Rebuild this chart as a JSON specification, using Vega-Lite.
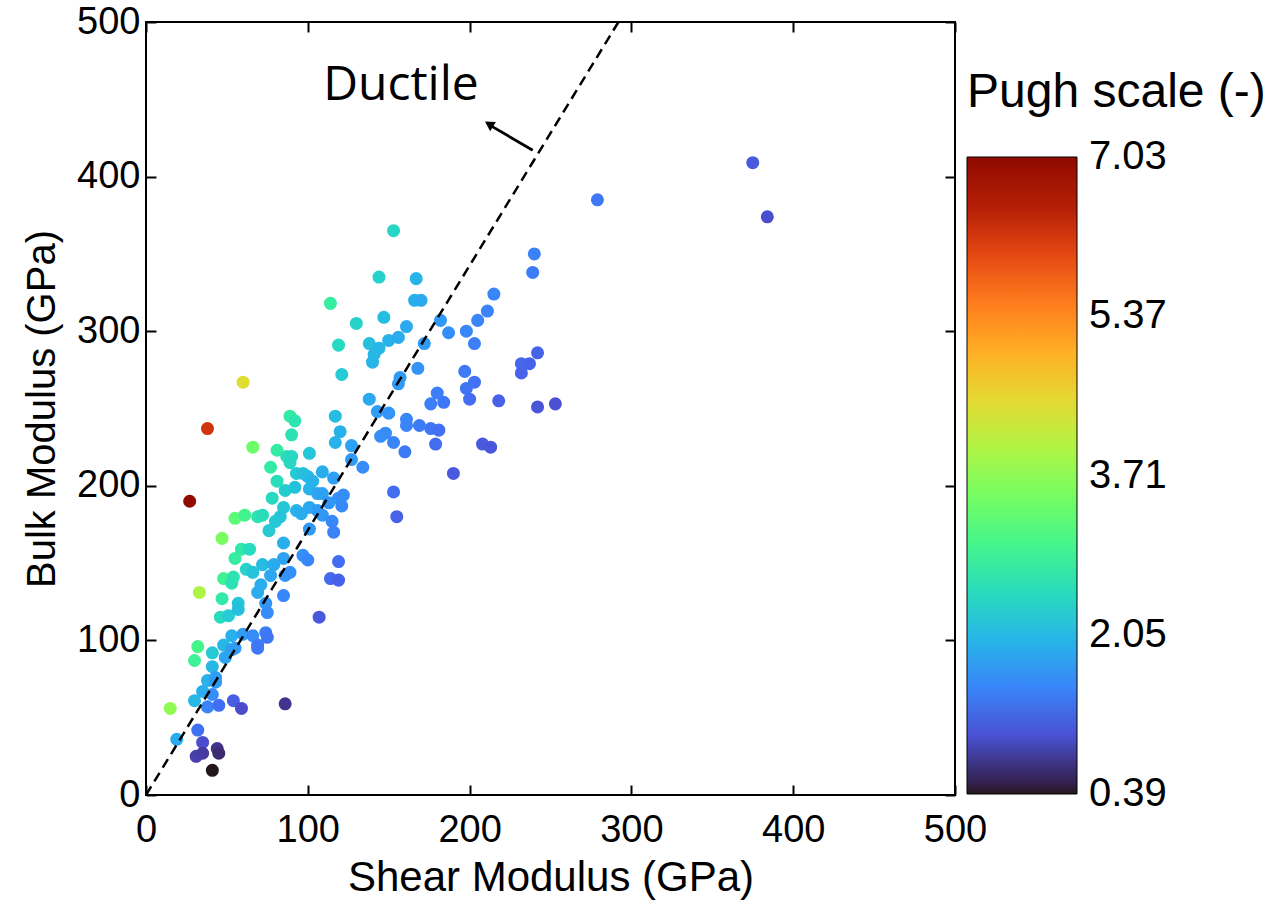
{
  "$schema": "https://vega.github.io/schema/vega-lite/v6.json",
  "width": 809,
  "height": 773,
  "autosize": {"type": "none"},
  "padding": {"left": 146, "top": 22, "right": 326, "bottom": 110},
  "background": "white",
  "datasets": {
    "points": [
      {"G":114,"B":318,"P":2.79},{"G":130,"B":305,"P":2.35},{"G":119,"B":291,"P":2.45},{"G":121,"B":272,"P":2.25},
      {"G":60,"B":267,"P":4.45},{"G":89,"B":245,"P":2.75},{"G":92,"B":242,"P":2.63},{"G":117,"B":245,"P":2.09},
      {"G":38,"B":237,"P":6.24},{"G":153,"B":365,"P":2.39},{"G":144,"B":335,"P":2.33},{"G":167,"B":334,"P":2.0},
      {"G":166,"B":320,"P":1.93},{"G":170,"B":320,"P":1.88},{"G":147,"B":309,"P":2.1},{"G":161,"B":303,"P":1.88},
      {"G":182,"B":307,"P":1.69},{"G":187,"B":299,"P":1.6},{"G":198,"B":300,"P":1.52},{"G":205,"B":307,"P":1.5},
      {"G":211,"B":313,"P":1.48},{"G":215,"B":324,"P":1.51},{"G":239,"B":338,"P":1.41},{"G":240,"B":350,"P":1.46},
      {"G":203,"B":292,"P":1.44},{"G":138,"B":292,"P":2.12},{"G":144,"B":289,"P":2.01},{"G":150,"B":294,"P":1.96},
      {"G":156,"B":296,"P":1.9},{"G":141,"B":285,"P":2.02},{"G":140,"B":280,"P":2.0},{"G":172,"B":292,"P":1.7},
      {"G":168,"B":276,"P":1.64},{"G":157,"B":270,"P":1.72},{"G":156,"B":266,"P":1.71},{"G":197,"B":274,"P":1.39},
      {"G":203,"B":267,"P":1.32},{"G":198,"B":263,"P":1.33},{"G":200,"B":256,"P":1.28},{"G":232,"B":279,"P":1.2},
      {"G":237,"B":279,"P":1.18},{"G":242,"B":286,"P":1.18},{"G":232,"B":273,"P":1.18},{"G":218,"B":255,"P":1.17},
      {"G":242,"B":251,"P":1.04},{"G":253,"B":253,"P":1.0},{"G":138,"B":256,"P":1.86},{"G":143,"B":248,"P":1.73},
      {"G":150,"B":247,"P":1.65},{"G":180,"B":260,"P":1.44},{"G":176,"B":253,"P":1.44},{"G":184,"B":254,"P":1.38},
      {"G":120,"B":235,"P":1.96},{"G":117,"B":228,"P":1.95},{"G":127,"B":226,"P":1.78},{"G":145,"B":232,"P":1.6},
      {"G":148,"B":234,"P":1.58},{"G":153,"B":228,"P":1.49},{"G":161,"B":243,"P":1.51},{"G":161,"B":239,"P":1.48},
      {"G":169,"B":239,"P":1.41},{"G":176,"B":237,"P":1.35},{"G":181,"B":236,"P":1.3},{"G":179,"B":227,"P":1.27},
      {"G":160,"B":222,"P":1.39},{"G":208,"B":227,"P":1.09},{"G":213,"B":225,"P":1.06},{"G":190,"B":208,"P":1.09},
      {"G":127,"B":217,"P":1.71},{"G":134,"B":212,"P":1.58},{"G":101,"B":221,"P":2.19},{"G":153,"B":196,"P":1.28},
      {"G":279,"B":385,"P":1.38},{"G":375,"B":409,"P":1.09},{"G":384,"B":374,"P":0.97},{"G":155,"B":180,"P":1.16},
      {"G":90,"B":233,"P":2.59},{"G":66,"B":225,"P":3.41},{"G":81,"B":223,"P":2.75},{"G":87,"B":219,"P":2.52},
      {"G":90,"B":219,"P":2.43},{"G":89,"B":215,"P":2.42},{"G":77,"B":212,"P":2.75},{"G":93,"B":208,"P":2.24},
      {"G":97,"B":208,"P":2.14},{"G":100,"B":206,"P":2.06},{"G":103,"B":203,"P":1.97},{"G":109,"B":209,"P":1.92},
      {"G":116,"B":205,"P":1.77},{"G":81,"B":203,"P":2.51},{"G":86,"B":197,"P":2.29},{"G":92,"B":199,"P":2.16},
      {"G":101,"B":198,"P":1.96},{"G":106,"B":195,"P":1.84},{"G":109,"B":195,"P":1.79},{"G":122,"B":194,"P":1.59},
      {"G":119,"B":192,"P":1.61},{"G":27,"B":190,"P":7.03},{"G":78,"B":192,"P":2.46},{"G":113,"B":189,"P":1.67},
      {"G":121,"B":187,"P":1.55},{"G":85,"B":186,"P":2.19},{"G":93,"B":184,"P":1.98},{"G":96,"B":182,"P":1.9},
      {"G":101,"B":186,"P":1.84},{"G":106,"B":184,"P":1.74},{"G":109,"B":181,"P":1.66},{"G":115,"B":177,"P":1.54},
      {"G":116,"B":170,"P":1.47},{"G":83,"B":180,"P":2.17},{"G":80,"B":177,"P":2.21},{"G":55,"B":179,"P":3.25},
      {"G":61,"B":181,"P":2.97},{"G":69,"B":180,"P":2.61},{"G":72,"B":181,"P":2.51},{"G":76,"B":171,"P":2.25},
      {"G":101,"B":172,"P":1.7},{"G":85,"B":163,"P":1.92},{"G":47,"B":166,"P":3.53},{"G":59,"B":159,"P":2.69},
      {"G":64,"B":159,"P":2.48},{"G":55,"B":153,"P":2.78},{"G":97,"B":155,"P":1.6},{"G":100,"B":152,"P":1.52},
      {"G":85,"B":153,"P":1.8},{"G":72,"B":149,"P":2.07},{"G":79,"B":149,"P":1.89},{"G":77,"B":142,"P":1.84},
      {"G":119,"B":151,"P":1.27},{"G":114,"B":140,"P":1.23},{"G":119,"B":139,"P":1.17},{"G":62,"B":146,"P":2.35},
      {"G":66,"B":144,"P":2.18},{"G":48,"B":140,"P":2.92},{"G":54,"B":141,"P":2.61},{"G":53,"B":137,"P":2.58},
      {"G":71,"B":136,"P":1.92},{"G":69,"B":131,"P":1.9},{"G":86,"B":142,"P":1.65},{"G":89,"B":144,"P":1.62},
      {"G":85,"B":129,"P":1.52},{"G":33,"B":131,"P":3.97},{"G":47,"B":127,"P":2.7},{"G":57,"B":124,"P":2.18},
      {"G":74,"B":124,"P":1.68},{"G":46,"B":115,"P":2.5},{"G":51,"B":116,"P":2.27},{"G":57,"B":120,"P":2.1},
      {"G":75,"B":118,"P":1.57},{"G":107,"B":115,"P":1.07},{"G":32,"B":96,"P":3.0},{"G":30,"B":87,"P":2.9},
      {"G":41,"B":92,"P":2.24},{"G":53,"B":103,"P":1.94},{"G":60,"B":104,"P":1.73},{"G":66,"B":103,"P":1.56},
      {"G":74,"B":105,"P":1.42},{"G":75,"B":102,"P":1.36},{"G":48,"B":97,"P":2.02},{"G":53,"B":94,"P":1.77},
      {"G":55,"B":95,"P":1.73},{"G":69,"B":97,"P":1.41},{"G":69,"B":95,"P":1.38},{"G":49,"B":89,"P":1.82},
      {"G":41,"B":83,"P":2.02},{"G":38,"B":74,"P":1.95},{"G":43,"B":76,"P":1.77},{"G":43,"B":73,"P":1.7},
      {"G":35,"B":67,"P":1.91},{"G":41,"B":65,"P":1.59},{"G":30,"B":61,"P":2.03},{"G":38,"B":57,"P":1.5},
      {"G":45,"B":58,"P":1.29},{"G":54,"B":61,"P":1.13},{"G":59,"B":56,"P":0.95},{"G":86,"B":59,"P":0.69},
      {"G":15,"B":56,"P":3.73},{"G":32,"B":42,"P":1.31},{"G":19,"B":36,"P":1.89},{"G":35,"B":34,"P":0.97},
      {"G":31,"B":25,"P":0.81},{"G":35,"B":27,"P":0.77},{"G":44,"B":30,"P":0.68},{"G":45,"B":27,"P":0.6},
      {"G":41,"B":16,"P":0.39}
    ],
    "line": [{"G":0,"B":0},{"G":292,"B":500}],
    "label": [{"G":157.6,"B":449.5,"text":"Ductile"}],
    "arrow": [{"G":239,"B":417,"G2":213,"B2":433}],
    "head": [{"G":212,"B":434}]
  },
  "layer": [
    {
      "data": {"name": "points"},
      "mark": {"type": "circle", "size": 170, "opacity": 1},
      "encoding": {
        "x": {"field": "G", "type": "quantitative", "scale": {"domain": [0, 500], "nice": false, "zero": false},
              "axis": {"orient": "bottom", "values": [0,100,200,300,400,500], "title": "Shear Modulus (GPa)", "labelPadding": 26, "titlePadding": 8, "titleFontSize": 42}},
        "y": {"field": "B", "type": "quantitative", "scale": {"domain": [0, 500], "nice": false, "zero": false},
              "axis": {"orient": "left", "values": [0,100,200,300,400,500], "title": "Bulk Modulus (GPa)", "labelPadding": 16, "titlePadding": 14}},
        "color": {"field": "P", "type": "quantitative",
          "scale": {"scheme": "turbo", "domain": [0.3899, 7.0301]},
          "legend": {"title": "Pugh scale (-)", "orient": "none", "legendX": 821, "legendY": 47,
            "direction": "vertical", "gradientLength": 637, "gradientThickness": 110,
            "values": [0.39, 2.05, 3.71, 5.37, 7.03], "format": ".2f",
            "labelFontSize": 40, "labelFont": "Liberation Sans", "labelColor": "black",
            "labelOffset": 12, "labelOverlap": false,
            "titleFontSize": 48, "titleFont": "Liberation Sans", "titleFontWeight": "normal", "titleColor": "black",
            "titlePadding": 40, "titleLimit": 500, "titleAnchor": "start",
            "gradientStrokeColor": "black", "gradientStrokeWidth": 1}}
      }
    },
    {
      "data": {"name": "line"},
      "mark": {"type": "line", "color": "black", "strokeWidth": 2.5, "strokeDash": [10, 6]},
      "encoding": {
        "x": {"field": "G", "type": "quantitative", "scale": {"domain": [0, 500], "nice": false, "zero": false},
              "axis": {"orient": "top", "values": [0,100,200,300,400,500], "labels": false, "title": null}},
        "y": {"field": "B", "type": "quantitative", "scale": {"domain": [0, 500], "nice": false, "zero": false},
              "axis": {"orient": "right", "values": [0,100,200,300,400,500], "labels": false, "title": null}}
      }
    },
    {
      "data": {"name": "label"},
      "mark": {"type": "text", "font": "Open Sans", "fontSize": 48, "color": "black", "align": "center", "baseline": "alphabetic"},
      "encoding": {
        "x": {"field": "G", "type": "quantitative", "axis": null},
        "y": {"field": "B", "type": "quantitative", "axis": null},
        "text": {"field": "text"}
      }
    },
    {
      "data": {"name": "arrow"},
      "mark": {"type": "rule", "color": "black", "strokeWidth": 2.8},
      "encoding": {
        "x": {"field": "G", "type": "quantitative", "axis": null},
        "y": {"field": "B", "type": "quantitative", "axis": null},
        "x2": {"field": "G2"},
        "y2": {"field": "B2"}
      }
    },
    {
      "data": {"name": "head"},
      "mark": {"type": "point", "shape": "triangle-up", "filled": true, "color": "black", "size": 120, "angle": 302, "opacity": 1},
      "encoding": {
        "x": {"field": "G", "type": "quantitative", "axis": null},
        "y": {"field": "B", "type": "quantitative", "axis": null}
      }
    }
  ],
  "resolve": {"axis": {"x": "independent", "y": "independent"}},
  "config": {
    "view": {"stroke": "black", "strokeWidth": 2},
    "axis": {"domain": false, "grid": false, "ticks": true, "tickColor": "black", "tickWidth": 2, "tickSize": -10,
             "labelFont": "Liberation Sans", "labelFontSize": 38, "labelColor": "black", "labelFlush": false,
             "titleFont": "Liberation Sans", "titleFontSize": 40, "titleFontWeight": "normal", "titleColor": "black"}
  }
}
